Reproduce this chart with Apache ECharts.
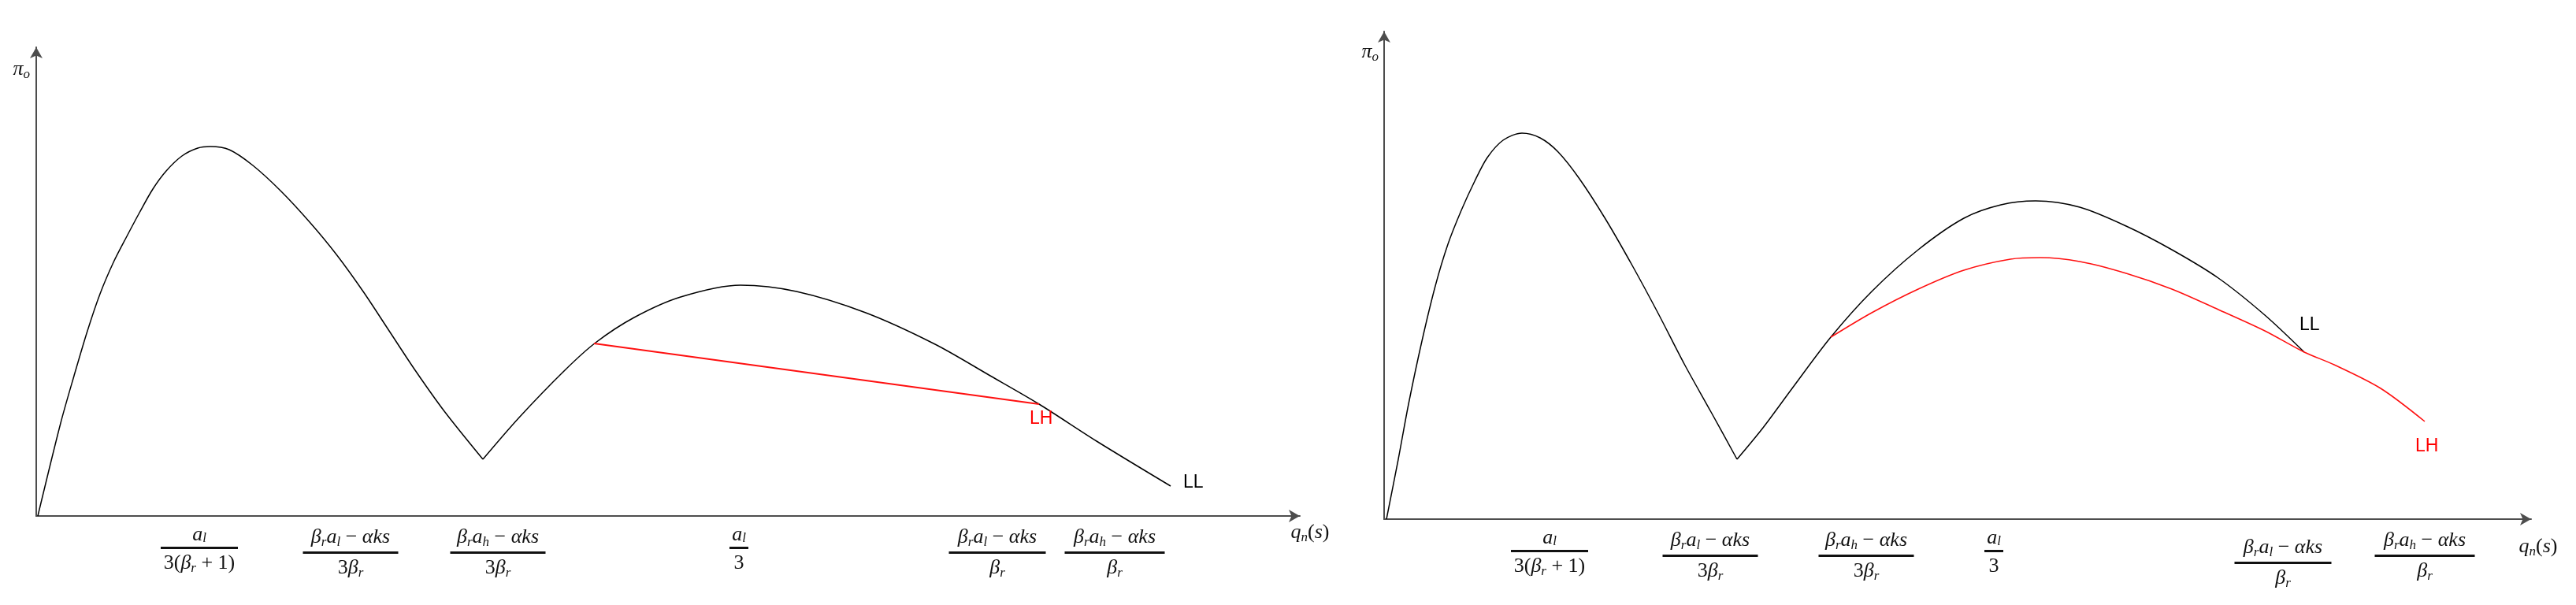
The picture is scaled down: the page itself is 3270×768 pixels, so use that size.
<!DOCTYPE html>
<html><head><meta charset="utf-8">
<script src="https://cdn.jsdelivr.net/npm/echarts@6/dist/echarts.min.js"></script>
<style>html,body{margin:0;padding:0;background:#fff}#c{width:3270px;height:768px}</style>
</head><body><div id="c"></div>
<script>
// ---------- data (arbitrary units) ----------
// Left panel
const leftLLPart1 = [[2,0],[31,118],[48,178],[65,235],[81,282],[98,322],[115,355],[131,385],[148,415],[165,438],[185,457],[205,467],[221,469],[245,465],[275,445],[311,412],[348,372],[381,332],[415,285],[448,235],[481,185],[518,133],[567,72]];
const leftLLPart2 = [[567,72],[613,125],[671,185],[710,220],[759,252],[818,278],[894,293],[965,285],[1053,258],[1141,218],[1211,178],[1273,142],[1346,95],[1440,38]];
const leftLH = [[708,219],[1273,142]];
const leftTickPos = [207, 399, 586, 892, 1220, 1369];
// Right panel
const rightLLPart1 = [[3,0],[18,76],[31,146],[48,226],[65,296],[81,349],[98,392],[115,429],[131,459],[151,481],[175,490],[198,484],[221,466],[248,432],[281,381],[315,322],[348,261],[381,197],[415,136],[448,76]];
const rightLLPart2 = [[448,76],[481,116],[518,166],[567,231],[619,289],[678,342],[736,382],[783,399],[827,404],[883,396],[942,372],[1000,342],[1059,306],[1118,259],[1168,212]];
const rightLH = [[567,231],[619,262],[678,292],[736,316],[795,330],[833,332],[883,327],[942,312],[1000,292],[1059,266],[1118,239],[1168,212],[1206,196],[1265,166],[1321,124]];
const rightTickPos = [210, 414, 612, 774, 1141, 1321];
// Tick labels (stacked fractions as rich text)
const tickLabels = [
  '{ma|a}{sa|l}\n{b1|}\n{u|3(}{m|β}{s|r}{u| + 1)}',
  '{m|β}{s|r}{m|a}{s|l}{u| − }{m|αks}\n{b2|}\n{u|3}{m|β}{s|r}',
  '{m|β}{s|r}{m|a}{s|h}{u| − }{m|αks}\n{b2|}\n{u|3}{m|β}{s|r}',
  '{ma|a}{sa|l}\n{b4|}\n{u|3}',
  '{m|β}{s|r}{m|a}{s|l}{u| − }{m|αks}\n{b5|}\n{m|β}{s|r}',
  '{m|β}{s|r}{m|a}{s|h}{u| − }{m|αks}\n{b6|}\n{m|β}{s|r}'
];
const xName = '{m|q}{s|n}{u|(}{m|s}{u|)}';
const yName = '{m|π}{s|o}';

// ---------- styles ----------
const SERIF = "'Liberation Serif','DejaVu Serif',serif";
function barStyle(w) { return {width: w, height: 3, backgroundColor: '#111', lineHeight: 9}; }
const rich = {
  m: {fontFamily: SERIF, fontStyle: 'italic', fontSize: 26, lineHeight: 30, color: '#111'},
  ma: {fontFamily: SERIF, fontStyle: 'italic', fontSize: 26, lineHeight: 24, color: '#111'},
  u: {fontFamily: SERIF, fontSize: 26, lineHeight: 30, color: '#111'},
  s: {fontFamily: SERIF, fontStyle: 'italic', fontSize: 17, lineHeight: 17, height: 17, verticalAlign: 'bottom', color: '#111'},
  sa: {fontFamily: SERIF, fontStyle: 'italic', fontSize: 17, lineHeight: 14, height: 14, verticalAlign: 'bottom', color: '#111'},
  gap: {height: 9, lineHeight: 9, width: 1},
  b1: barStyle(98), b2: barStyle(121), b4: barStyle(24), b5: barStyle(123), b6: barStyle(127)
};
const axisLineStyle = {show: true, onZero: false, symbol: ['none', 'arrow'], symbolSize: [12, 14], lineStyle: {color: '#4d4d4d', width: 2}};
const tagFont = "'Liberation Sans Narrow','Liberation Sans',sans-serif";

function xAxisFor(grid, max, pos, gap, padTop, dropIndex) {
  return {
    gridIndex: grid, type: 'value', min: 0, max: max,
    axisLine: axisLineStyle, axisTick: {show: false}, splitLine: {show: false},
    axisLabel: {
      show: true, customValues: pos, margin: 12, hideOverlap: false, align: 'center', rich: rich,
      formatter: function (v) {
        const i = pos.indexOf(v);
        if (i < 0) return '';
        return (i === dropIndex ? '{gap|}\n' : '') + tickLabels[i];
      }
    },
    name: xName, nameLocation: 'end', nameGap: gap,
    nameTextStyle: {rich: rich, align: 'center', verticalAlign: 'top', padding: [padTop, 0, 0, 0]}
  };
}
function yAxisFor(grid, max, gap, padRight) {
  return {
    gridIndex: grid, type: 'value', min: 0, max: max,
    axisLine: axisLineStyle, axisTick: {show: false}, splitLine: {show: false}, axisLabel: {show: false},
    name: yName, nameLocation: 'end', nameGap: gap,
    nameTextStyle: {rich: rich, align: 'right', verticalAlign: 'top', padding: [0, padRight, 0, 0]}
  };
}
function line(idx, data, color, width, smooth, label) {
  const s = {
    type: 'line', xAxisIndex: idx, yAxisIndex: idx, data: data, symbol: 'none', smooth: smooth,
    lineStyle: {color: color, width: width}, z: color === '#000' ? 2 : 3
  };
  if (label) {
    s.endLabel = {show: true, formatter: label.text, color: label.color, fontFamily: tagFont, fontSize: 23, offset: label.offset};
  }
  return s;
}

const chart = echarts.init(document.getElementById('c'), null, {renderer: 'canvas'});
chart.setOption({
  animation: false,
  backgroundColor: '#fff',
  grid: [
    {left: 46, top: 60, width: 1604, height: 595},
    {left: 1757, top: 40, width: 1456, height: 619}
  ],
  xAxis: [xAxisFor(0, 1604, leftTickPos, 13, 6, -1), xAxisFor(1, 1456, rightTickPos, 9, 20, 4)],
  yAxis: [yAxisFor(0, 595, -13, 8), yAxisFor(1, 619, -11, 7)],
  series: [
    line(0, leftLLPart1, '#000', 1.5, 0.3),
    line(0, leftLLPart2, '#000', 1.5, 0.3, {text: 'LL', color: '#000', offset: [8, -4]}),
    line(0, leftLH, '#ff1010', 2, false, {text: 'LH', color: '#ff0000', offset: [-20, 19]}),
    line(1, rightLLPart1, '#000', 1.5, 0.3),
    line(1, rightLLPart2, '#000', 1.5, 0.3, {text: 'LL', color: '#000', offset: [-14, -34]}),
    line(1, rightLH, '#ff1010', 1.6, 0.3, {text: 'LH', color: '#ff0000', offset: [-20, 32]})
  ]
});
</script>
</body></html>
